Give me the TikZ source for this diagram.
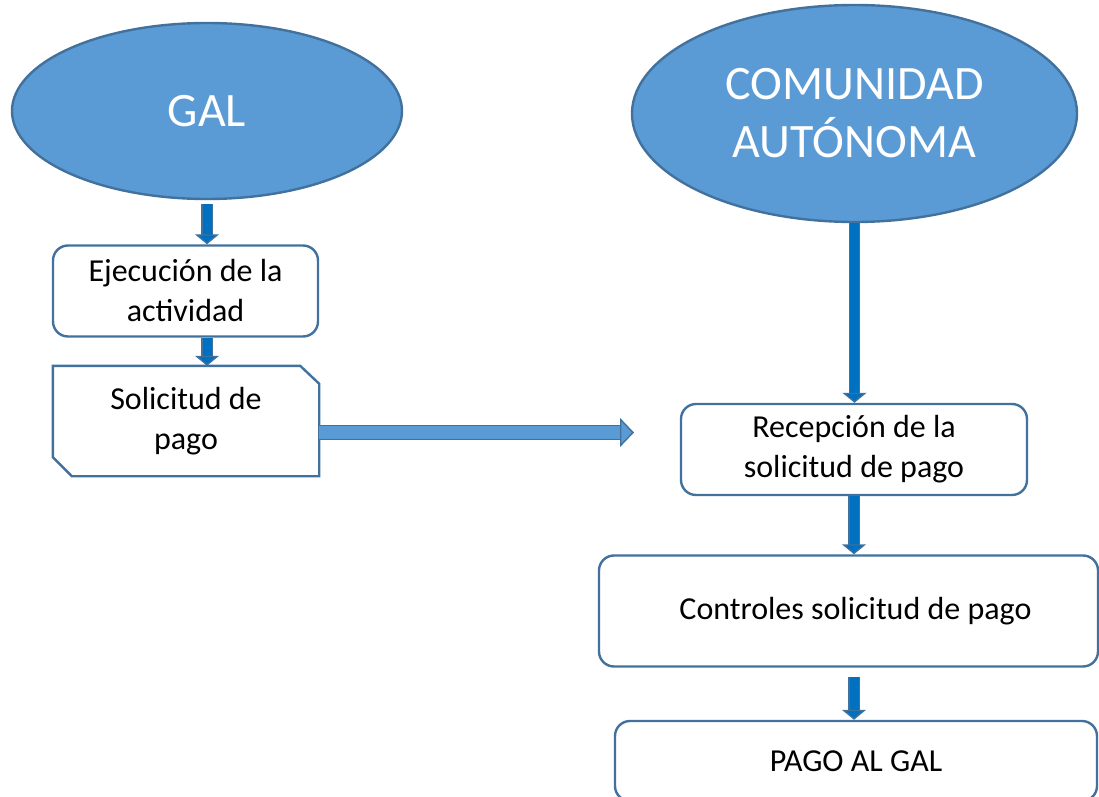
\documentclass[tikz,border=0pt]{standalone}
\usepackage{fontspec}
\setmainfont{Carlito}
\usetikzlibrary{shapes.geometric,arrows.meta}

\definecolor{relleno}{HTML}{5B9BD5}
\definecolor{borde}{HTML}{41719C}
\definecolor{azul}{HTML}{0070C0}

\tikzset{
  elipse/.style={ellipse, draw=borde, fill=relleno, line width=1.2pt, inner sep=0pt,
    text=white, align=center, font=\fontsize{24}{29}\selectfont},
  caja/.style={rectangle, draw=borde, line width=1.2pt, rounded corners=7.5pt,
    align=center, font=\fontsize{16}{20}\selectfont},
  flecha/.style={draw=borde, line width=0.7pt, double=azul, double distance=4.5pt,
    -{Triangle[width=12pt,length=5pt,fill=azul,color=borde,line width=0.7pt]}},
  flechaclara/.style={draw=borde, line width=0.7pt, double=relleno, double distance=6.5pt,
    -{Triangle[width=14.5pt,length=7pt,fill=relleno,color=borde,line width=0.7pt]}},
}

\begin{document}
\begin{tikzpicture}[x=0.5pt,y=-0.5pt]
   \useasboundingbox (0,0) rectangle (1099,797);

 % Elipses de arriba
    \node[elipse, minimum width=195pt, minimum height=88pt] (gal) at (207,111) {GAL};
    \node[elipse, minimum width=222.5pt, minimum height=108.5pt] (ca) at (854.5,113.5) {COMUNIDAD\\AUTÓNOMA};

 % Lado del GAL
    \node[caja, minimum width=132.5pt, minimum height=45.5pt] (ejec) at (185.5,291) {Ejecución de la\\actividad};
    \node[caja, draw=none, minimum width=132pt, minimum height=54pt] (solic) at (186,421) {Solicitud de\\pago};
    \draw[borde, line width=1.2pt] (solic.north west) -- ([xshift=-9.5pt]solic.north east)
       -- ([yshift=-9pt]solic.north east) -- (solic.south east) -- ([xshift=9.5pt]solic.south west)
       -- ([yshift=9.5pt]solic.south west) -- cycle;

 % Lado de la comunidad
    \node[caja, minimum width=173pt, minimum height=45.5pt] (recep) at (854,449.5) {Recepción de la\\solicitud de pago};
    \node[caja, minimum width=249.5pt, minimum height=55.5pt] (ctrl) at (848.5,611) {\hspace*{7pt}Controles solicitud de pago};
    \node[caja, minimum width=241pt, minimum height=40pt] (pago) at (856,761) {PAGO AL GAL};

 % Flechas
    \coordinate (hend) at (634,432.5);
    \draw[flecha, shorten <=2pt] (gal.south) -- (gal.south |- ejec.north);
    \draw[flecha] (ejec.south -| gal.south) -- (solic.north -| gal.south);
    \draw[flechaclara] (solic.east |- hend) -- (hend);
    \draw[flecha] (ca.south) -- (ca.south |- recep.north);
    \draw[flecha] (recep.south) -- (recep.south |- ctrl.north);
    \draw[flecha, shorten <=4.5pt] (ctrl.south -| recep.south) -- (pago.north -| recep.south);

\end{tikzpicture}
\end{document}
